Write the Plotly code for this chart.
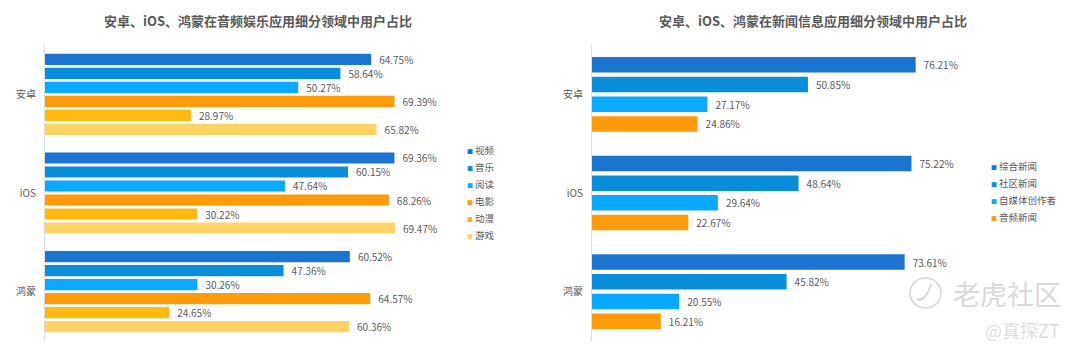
import plotly.graph_objects as go

platforms = ["安卓", "iOS", "鸿蒙"]
title_left = "安卓、iOS、鸿蒙在音频娱乐应用细分领域中用户占比"
title_right = "安卓、iOS、鸿蒙在新闻信息应用细分领域中用户占比"

video = [64.75, 69.36, 60.52]
music = [58.64, 60.15, 47.36]
reading = [50.27, 47.64, 30.26]
movie = [69.39, 68.26, 64.57]
anime = [28.97, 30.22, 24.65]
game = [65.82, 69.47, 60.36]

general_news = [76.21, 75.22, 73.61]
community_news = [50.85, 48.64, 45.82]
self_media = [27.17, 29.64, 20.55]
audio_news = [24.86, 22.67, 16.21]

left_names = ["视频", "音乐", "阅读", "电影", "动漫", "游戏"]
left_values = [video, music, reading, movie, anime, game]
left_colors = ["#1B74CF", "#0A8EDC", "#0AA8FF", "#FF9A0A", "#FFB90F", "#FFD466"]
right_names = ["综合新闻", "社区新闻", "自媒体创作者", "音频新闻"]
right_values = [general_news, community_news, self_media, audio_news]
right_colors = ["#1B74CF", "#0A8EDC", "#0AA8FF", "#FF9A0A"]

# the page body has an 8px margin, so the figure is 16px smaller and coordinates shift by 8
OFF = 8
W, H = 1080 - 2 * OFF, 355 - 2 * OFF
FONT = "Noto Sans CJK SC"
TXT = "#595959"
fig = go.Figure()


def px(x):
    return (x - OFF) / W


def py(y):
    return 1 - (y - OFF) / H


def add_bars(names, values, colors, xa, ya, pitch, width):
    count = len(names)
    for i, (n, v, c) in enumerate(zip(names, values, colors)):
        fig.add_trace(go.Bar(
            y=platforms, x=v, name=n, orientation="h", marker=dict(color=c, line_width=0),
            xaxis=xa, yaxis=ya, width=width, offset=(i - (count - 1) / 2) * pitch - width / 2,
            showlegend=False,
            text=[f"\u2002{a:.2f}%" for a in v], textposition="outside", cliponaxis=False,
            constraintext="none",
            textfont=dict(size=10, color=TXT, family=FONT),
        ))


add_bars(left_names, left_values, left_colors, "x", "y", 0.142, 0.113)
add_bars(right_names, right_values, right_colors, "x2", "y2", 0.2, 0.157)

axis_y = dict(categoryorder="array", categoryarray=platforms, autorange="reversed",
              showline=True, linecolor="#DDDDDD", linewidth=1, showgrid=False, zeroline=False,
              ticks="outside", ticklen=6, tickcolor="rgba(0,0,0,0)",
              tickfont=dict(size=10, color=TXT, family=FONT))
axis_x = dict(visible=False, showgrid=False, zeroline=False)

annotations = []


def txt(x, y, s, size, color=TXT, xanchor="center"):
    annotations.append(dict(x=px(x), y=py(y), xref="paper", yref="paper", text=s, showarrow=False,
                            xanchor=xanchor, yanchor="middle", borderpad=0,
                            font=dict(size=size, color=color, family=FONT)))


txt(258, 21, f"<b>{title_left}</b>", 13)
txt(813, 21, f"<b>{title_right}</b>", 13)


def legend_text(n, c):
    return f'<span style="color:{c};font-size:6px">■</span>\u2009{n}'


for i, (n, c) in enumerate(zip(left_names, left_colors)):
    txt(466, 150 + i * 17, legend_text(n, c), 9.5, xanchor="left")
for i, (n, c) in enumerate(zip(right_names, right_colors)):
    txt(990, 166 + i * 17, legend_text(n, c), 9.5, xanchor="left")

txt(1007, 293, "老虎社区", 27, "#D9D9D9")
txt(1022, 330, "@真探ZT", 18, "#DEDEDE")

fig.update_layout(
    width=W, height=H, paper_bgcolor="white", plot_bgcolor="white",
    margin=dict(l=0, r=0, t=0, b=0), autosize=False, showlegend=False,
    barmode="overlay",
    xaxis=dict(domain=[px(45), px(448)], range=[0, 80], **axis_x),
    yaxis=dict(domain=[py(341), py(45)], anchor="x", **axis_y),
    xaxis2=dict(domain=[px(592), px(953)], range=[0, 85], **axis_x),
    yaxis2=dict(domain=[py(341), py(45)], anchor="x2", **axis_y),
    annotations=annotations,
    shapes=[
        dict(type="circle", xref="paper", yref="paper", x0=px(910), x1=px(941),
             y0=py(308), y1=py(278), line=dict(color="#D8D8D8", width=1.5)),
        dict(type="path", xref="paper", yref="paper",
             path=f"M {px(917)} {py(299)} Q {px(925)} {py(303)} {px(931)} {py(284)}",
             line=dict(color="#D8D8D8", width=2)),
    ],
)

fig.write_html("out.html")
